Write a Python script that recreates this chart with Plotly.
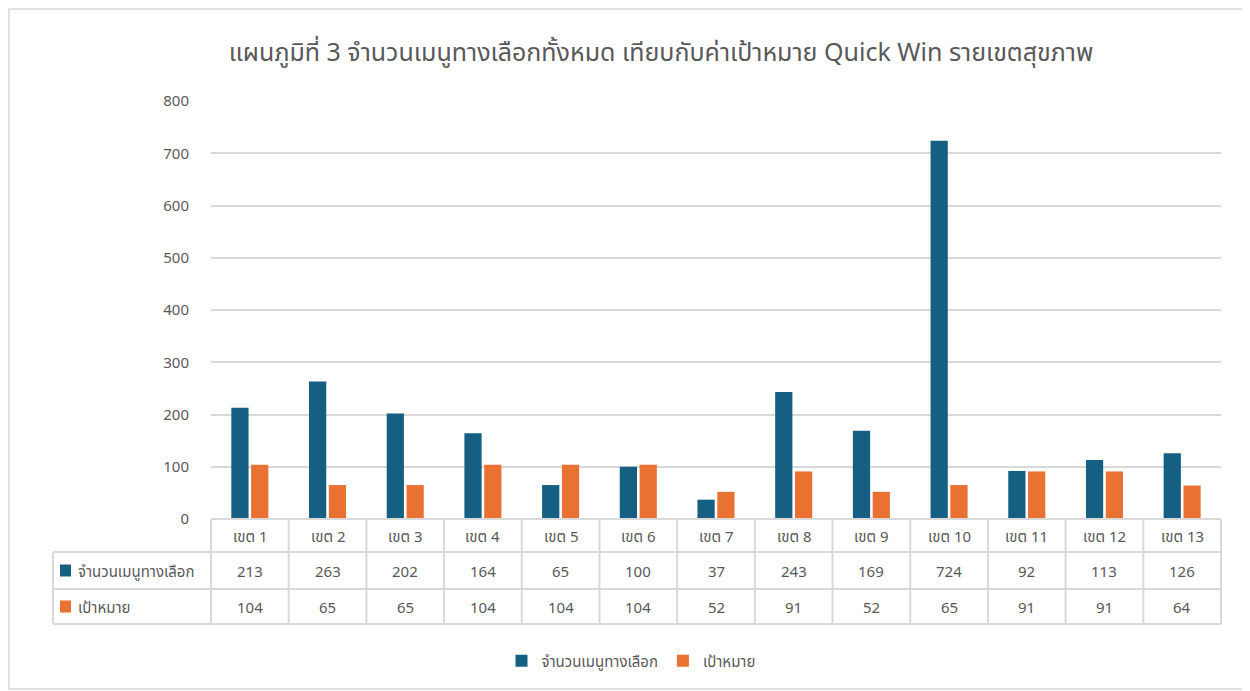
import plotly.graph_objects as go

categories = ["เขต 1", "เขต 2", "เขต 3", "เขต 4", "เขต 5", "เขต 6", "เขต 7",
              "เขต 8", "เขต 9", "เขต 10", "เขต 11", "เขต 12", "เขต 13"]
menu_counts = [213, 263, 202, 164, 65, 100, 37, 243, 169, 724, 92, 113, 126]
targets = [104, 65, 65, 104, 104, 104, 52, 91, 52, 65, 91, 91, 64]
series_names = ["จำนวนเมนูทางเลือก", "เป้าหมาย"]
title_text = "แผนภูมิที่ 3 จำนวนเมนูทางเลือกทั้งหมด เทียบกับค่าเป้าหมาย Quick Win รายเขตสุขภาพ"

BLUE = "#156082"
ORANGE = "#E97132"
TXT = "#595959"
GRID = "#D9D9D9"
FONT = "Noto Sans, Noto Sans Thai, Tahoma, sans-serif"

OFF = 8                      # page body margin
W, H = 1250 - OFF, 691 - OFF
ML = 211 - OFF
MT = 101 - OFF
MR = W - (1221 - OFF)
MB = H - (519 - OFF)
PW = W - ML - MR
PH = H - MT - MB

def py(y_page):   # page pixel y -> paper y
    return (H - MB - (y_page - OFF)) / PH

def pxx(x_page):  # page pixel x -> paper x
    return (x_page - OFF - ML) / PW

fig = go.Figure()
fig.add_trace(go.Bar(x=categories, y=menu_counts, name=series_names[0],
                     marker=dict(color=BLUE, line=dict(width=0))))
fig.add_trace(go.Bar(x=categories, y=targets, name=series_names[1],
                     marker=dict(color=ORANGE, line=dict(width=0))))

n = len(categories)
shapes = []
annotations = []

row_top, row1, row2, row3 = 519, 552, 589, 624
left_px = 53
line_style = dict(color=GRID, width=2)

shapes.append(dict(type="line", xref="paper", yref="paper",
                   x0=0, x1=1, y0=py(row_top), y1=py(row_top), line=line_style))
for yy in (row1, row2, row3):
    shapes.append(dict(type="line", xref="paper", yref="paper",
                       x0=pxx(left_px), x1=1, y0=py(yy), y1=py(yy), line=line_style))
for i in range(n + 1):
    xp = i / n
    shapes.append(dict(type="line", xref="paper", yref="paper",
                       x0=xp, x1=xp, y0=py(row_top), y1=py(row3), line=line_style))
shapes.append(dict(type="line", xref="paper", yref="paper",
                   x0=pxx(left_px), x1=pxx(left_px), y0=py(row1), y1=py(row3), line=line_style))

# outer chart border
shapes.append(dict(type="rect", xref="paper", yref="paper",
                   x0=pxx(OFF + 1), x1=pxx(1249), y0=py(689), y1=py(OFF + 1),
                   line=dict(color=GRID, width=1.5), fillcolor="rgba(0,0,0,0)", layer="below"))

rows = [(row_top, row1, categories), (row1, row2, menu_counts), (row2, row3, targets)]
for (ya, yb, vals) in rows:
    yc = py((ya + yb) / 2)
    for i, v in enumerate(vals):
        annotations.append(dict(x=(i + 0.5) / n, y=yc, xref="paper", yref="paper",
                                text=str(v), showarrow=False,
                                font=dict(size=15, color=TXT, family=FONT),
                                xanchor="center", yanchor="middle"))

for (ya, yb), name, col in zip([(row1, row2), (row2, row3)], series_names, [BLUE, ORANGE]):
    yc_px = (ya + yb) / 2
    shapes.append(dict(type="rect", xref="paper", yref="paper",
                       x0=pxx(60), x1=pxx(71), y0=py(yc_px + 6), y1=py(yc_px - 6),
                       fillcolor=col, line=dict(width=0)))
    annotations.append(dict(x=pxx(76), y=py(yc_px), xref="paper", yref="paper",
                            text=name, showarrow=False,
                            font=dict(size=15, color=TXT, family=FONT),
                            xanchor="left", yanchor="middle"))

fig.update_layout(
    width=W, height=H,
    margin=dict(l=ML, r=MR, t=MT, b=MB),
    paper_bgcolor="white", plot_bgcolor="white",
    title=dict(text=title_text, x=(661 - OFF) / W, xref="container", xanchor="center",
               y=1 - (52 - OFF) / H, yref="container", yanchor="middle",
               font=dict(size=25, color=TXT, family=FONT)),
    barmode="group", bargap=0.49, bargroupgap=0.13,
    xaxis=dict(showticklabels=False, showgrid=False, zeroline=False, showline=False,
               ticks=""),
    yaxis=dict(range=[0, 800], dtick=100, showgrid=True, gridcolor=GRID, gridwidth=1.5,
               zeroline=False, showline=False, ticks="",
               tickfont=dict(size=15, color=TXT, family=FONT), ticklabelstandoff=21),
    legend=dict(orientation="h", x=pxx(631), xanchor="center",
                y=py(661), yanchor="middle",
                font=dict(size=15, color=TXT, family=FONT),
                itemwidth=30, traceorder="normal"),
    shapes=shapes,
    annotations=annotations,
    font=dict(family=FONT, color=TXT),
)

fig.write_html("out.html")
